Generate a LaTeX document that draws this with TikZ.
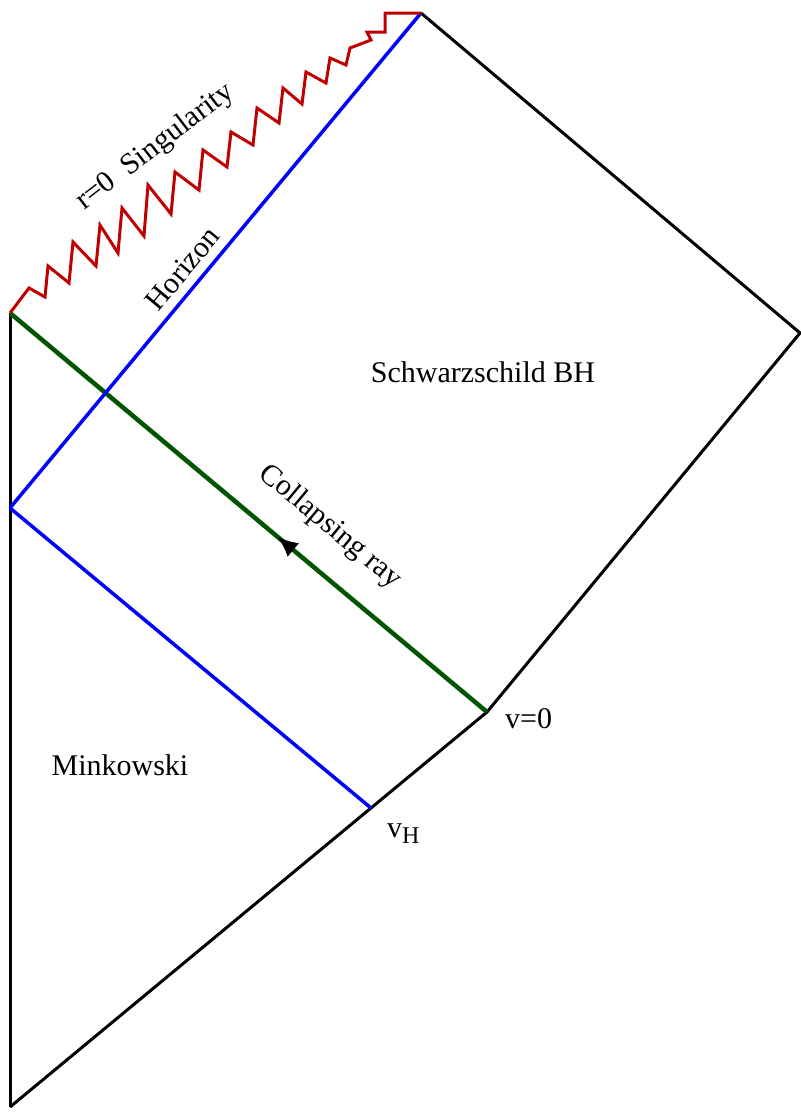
\documentclass[tikz,border=0pt]{standalone}
\usepackage{fontspec}
\setmainfont{Liberation Serif}
\usetikzlibrary{decorations.markings,arrows.meta}
\definecolor{hblue}{RGB}{0,0,255}
\definecolor{rgreen}{RGB}{0,85,0}
\definecolor{sred}{RGB}{192,0,0}
\begin{document}
\begin{tikzpicture}[x=1pt,y=-1pt,
  bh/.style={draw=black,line width=3pt,line join=miter},
  hor/.style={draw=hblue,line width=3.5pt},
  ray/.style={draw=rgreen,line width=4.5pt},
  sing/.style={draw=sred,line width=3pt,line join=miter},
  lbl/.style={font=\fontsize{30}{36}\selectfont,inner sep=0pt}]
\useasboundingbox (0,0) rectangle (801,1120);
% corners
\coordinate (A) at (10,1107);
\coordinate (O) at (10,313);
\coordinate (Hl) at (10,508);
\coordinate (V0) at (487,712);
\coordinate (VH) at (371,808);
\coordinate (R) at (800,333);
\coordinate (T) at (421,13);
% Penrose diagram boundary
\draw[bh] (A) -- (O);
\draw[bh] (A) -- (VH) -- (V0) -- (R) -- (T);
\draw[bh] (V0) -- (O);
% collapsing ray
\draw[ray, postaction={decorate}, decoration={markings,
  mark=at position 0.44 with {\arrow[black]{Latex[length=21pt,width=18pt]}}}] (V0) -- (O);
% horizon
\draw[hor] (Hl) -- (T);
\draw[hor] (Hl) -- (VH);
% singularity
\draw[sing] (O) -- (29,288)
  -- (45,297) -- (48,266)
  -- (69,283) -- (73,242)
  -- (96,266) -- (100,225)
  -- (118,253) -- (122,208)
  -- (144,236) -- (148,185)
  -- (171,214) -- (175,172)
  -- (199,190) -- (203,150)
  -- (227,167) -- (231,132)
  -- (253,145) -- (257,108)
  -- (279,123) -- (283,88)
  -- (302,104) -- (306,72)
  -- (326,83) -- (330,58)
  -- (346,65) -- (350,48)
  -- (371,40) -- (367,32)
  -- (385,32) -- (385,13) -- (T);
% labels
\node[lbl,anchor=base] (sbh) at (483,382) {Schwarzschild BH};
\node[lbl,anchor=base] (mink) at (120,775) {Minkowski};
\node[lbl,anchor=base west] (v0) at (505,728) {v=0};
\node[lbl,anchor=base west] (vh) at (387,837) {v\raisebox{-6pt}{\fontsize{24}{24}\selectfont H}};
\node[lbl,anchor=center,rotate=-39.9] (cray) at (330,527) {Collapsing ray};
\node[lbl,anchor=base,rotate=50.3] (hz) at (190,275) {Horizon};
\node[lbl,anchor=base,rotate=37.5] (sg) at (160,153) {r=0\ \ Singularity};
\end{tikzpicture}
\end{document}
